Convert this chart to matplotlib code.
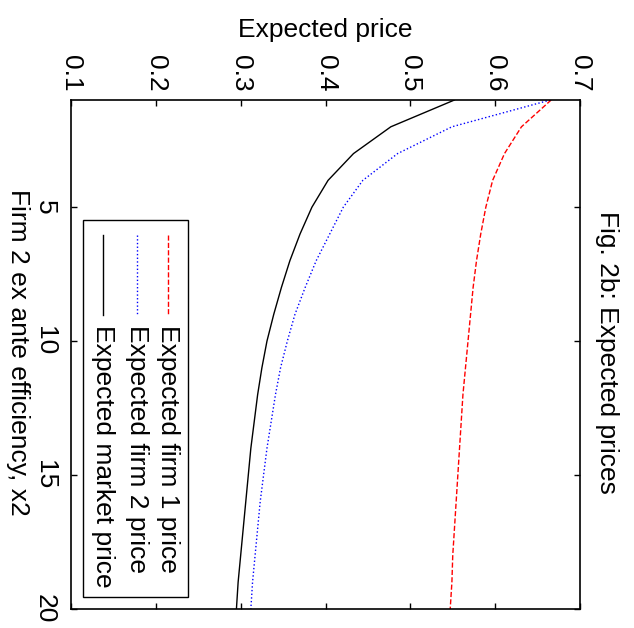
import numpy as np
import matplotlib
matplotlib.use("Agg")
import matplotlib.pyplot as plt

plt.rcParams['font.family'] = ['Liberation Sans', 'DejaVu Sans']

# ---- data ----
x2 = list(range(1, 21))
firm1_price = [0.666, 0.631, 0.611, 0.597, 0.589, 0.583, 0.578, 0.574, 0.571, 0.568,
               0.565, 0.562, 0.560, 0.558, 0.556, 0.554, 0.552, 0.550, 0.549, 0.547]
firm2_price = [0.665, 0.549, 0.485, 0.444, 0.421, 0.405, 0.389, 0.376, 0.364, 0.355,
               0.347, 0.341, 0.336, 0.331, 0.327, 0.323, 0.320, 0.317, 0.314, 0.312]
market_price = [0.552, 0.477, 0.433, 0.403, 0.384, 0.370, 0.358, 0.348, 0.339, 0.331,
                0.325, 0.320, 0.316, 0.312, 0.309, 0.306, 0.303, 0.300, 0.297, 0.295]
series_names = ["Expected firm 1 price", "Expected firm 2 price", "Expected market price"]
price_ticks = [0.1, 0.2, 0.3, 0.4, 0.5, 0.6, 0.7]
x2_ticks = [5, 10, 15, 20]

FS = 19

# the original is a matlab plot turned 90 deg clockwise,
# so price runs left->right and x2 runs top->bottom
fig = plt.figure(figsize=(6.34, 6.28), dpi=100)
ax = fig.add_axes([71 / 634, 1 - 609 / 628, 509 / 634, 509 / 628])

styles = [dict(color="red", ls="--"), dict(color="blue", ls=":"), dict(color="black", ls="-")]
lines = []
for vals, st in zip([firm1_price, firm2_price, market_price], styles):
    ln, = ax.plot(vals, x2, lw=1.0, **st)
    lines.append(ln)

ax.set_xlim(0.1, 0.7)
ax.set_ylim(20, 1)
ax.set_xticks(price_ticks)
ax.set_xticklabels([f"{t:.1f}" for t in price_ticks])
ax.set_yticks(x2_ticks)
ax.set_yticklabels([str(t) for t in x2_ticks])

ax.tick_params(axis="both", direction="in", length=4, width=1,
               top=True, bottom=True, left=True, right=True)
ax.tick_params(axis="x", labeltop=True, labelbottom=False, labelsize=FS, pad=6)
ax.tick_params(axis="y", labelsize=FS, pad=10)
for lbl in ax.get_xticklabels():
    lbl.set_rotation(-90)
    lbl.set_ha("center")
    lbl.set_va("bottom")
for lbl in ax.get_yticklabels():
    lbl.set_rotation(-90)
    lbl.set_ha("right")
    lbl.set_va("center")
for sp in ax.spines.values():
    sp.set_linewidth(1.2)

# axis labels and title (rotated)
fig.text(325 / 634, 1 - 30 / 628, "Expected price", fontsize=FS, ha="center", va="center")
fig.text(18 / 634, 1 - 352 / 628, "Firm 2 ex ante efficiency, x2", fontsize=FS,
         rotation=-90, ha="center", va="center")
fig.text(607 / 634, 1 - 352 / 628, "Fig. 2b: Expected prices", fontsize=FS,
         rotation=-90, ha="center", va="center")

# legend box drawn by hand so that entries can be turned too
box = plt.Rectangle((0.0236, 0.0236), 0.2063, 0.7406, transform=ax.transAxes,
                    facecolor="white", edgecolor="black", lw=1.0, zorder=5)
ax.add_patch(box)
leg_x = [(168 - 71) / 509, (137 - 71) / 509, (103 - 71) / 509]
for lx, ln, name in zip(leg_x, lines, series_names):
    ax.plot([lx, lx], [(609 - 235) / 509, (609 - 315) / 509], transform=ax.transAxes,
            color=ln.get_color(), ls=ln.get_linestyle(), lw=1.0, zorder=6)
    ax.text(lx, (609 - 325) / 509, name, transform=ax.transAxes, fontsize=FS,
            rotation=-90, ha="center", va="top", zorder=6)

fig.savefig("out.png", dpi=100)
